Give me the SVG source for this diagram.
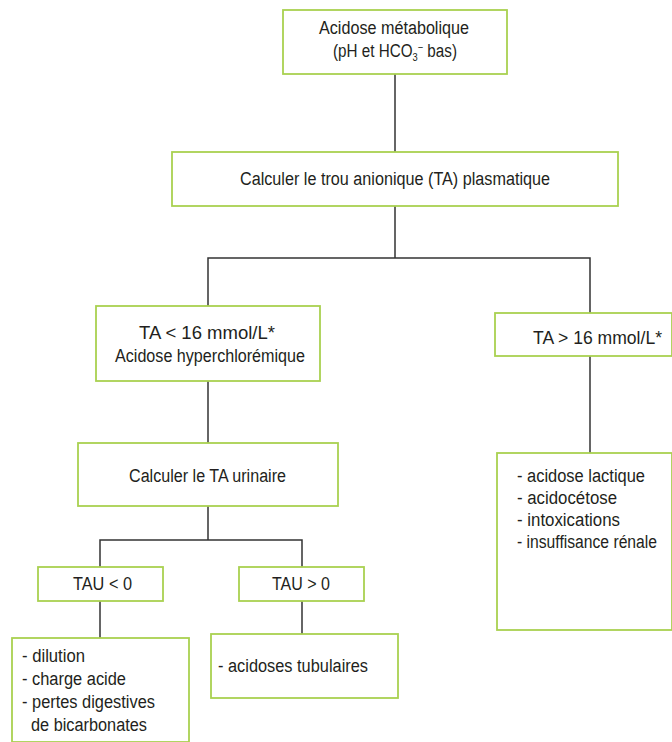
<svg xmlns="http://www.w3.org/2000/svg" width="672" height="742" viewBox="0 0 672 742">
<style>
.box{fill:#fff;stroke:#a9d150;stroke-width:1.8}
.t{font-family:"Liberation Sans",Arial,sans-serif;font-size:18px;fill:#231f20}
.c{fill:none;stroke:#333;stroke-width:1.5}
</style>
<rect width="672" height="742" fill="#fff"/>
<g id="connectors">
<path class="c" d="M395 74V152"/>
<path class="c" d="M395 206V258M208 306V258H590V313"/>
<path class="c" d="M590 356V453"/>
<path class="c" d="M208 381V443"/>
<path class="c" d="M208 506V540M100 567V540H302V567"/>
<path class="c" d="M100 601V638"/>
<path class="c" d="M302 601V634"/>
</g>
<g id="n1">
<rect class="box" x="283" y="10" width="224" height="64"/>
<text class="t" x="319" y="34" textLength="150" lengthAdjust="spacingAndGlyphs">Acidose métabolique</text>
<text class="t" x="333" y="57" textLength="124" lengthAdjust="spacingAndGlyphs">(pH et HCO<tspan font-size="11" dy="4">3</tspan><tspan font-size="11" dy="-10">−</tspan><tspan dy="6"> bas)</tspan></text>
</g>
<g id="n2">
<rect class="box" x="172" y="152" width="446" height="54"/>
<text class="t" x="240" y="185" textLength="310" lengthAdjust="spacingAndGlyphs">Calculer le trou anionique (TA) plasmatique</text>
</g>
<g id="n3">
<rect class="box" x="96" y="306" width="224" height="75"/>
<text class="t" x="139" y="339" textLength="136" lengthAdjust="spacingAndGlyphs">TA &lt; 16 mmol/L*</text>
<text class="t" x="115" y="362" textLength="190" lengthAdjust="spacingAndGlyphs">Acidose hyperchlorémique</text>
</g>
<g id="n4">
<rect class="box" x="495" y="313" width="177" height="43"/>
<text class="t" x="533" y="344" textLength="129" lengthAdjust="spacingAndGlyphs">TA &gt; 16 mmol/L*</text>
</g>
<g id="n5">
<rect class="box" x="497" y="453" width="175" height="177"/>
<text class="t" x="517" y="482" textLength="128" lengthAdjust="spacingAndGlyphs">- acidose lactique</text>
<text class="t" x="517" y="504" textLength="100" lengthAdjust="spacingAndGlyphs">- acidocétose</text>
<text class="t" x="517" y="526" textLength="103" lengthAdjust="spacingAndGlyphs">- intoxications</text>
<text class="t" x="517" y="548" textLength="140" lengthAdjust="spacingAndGlyphs">- insuffisance rénale</text>
</g>
<g id="n6">
<rect class="box" x="78" y="443" width="260" height="63"/>
<text class="t" x="129" y="482" textLength="157" lengthAdjust="spacingAndGlyphs">Calculer le TA urinaire</text>
</g>
<g id="n7">
<rect class="box" x="38" y="567" width="125" height="34"/>
<text class="t" x="73" y="590" textLength="59" lengthAdjust="spacingAndGlyphs">TAU &lt; 0</text>
</g>
<g id="n8">
<rect class="box" x="239" y="567" width="125" height="34"/>
<text class="t" x="272" y="590" textLength="58" lengthAdjust="spacingAndGlyphs">TAU &gt; 0</text>
</g>
<g id="n9">
<rect class="box" x="12" y="638" width="177" height="104"/>
<text class="t" x="22" y="662" textLength="63" lengthAdjust="spacingAndGlyphs">- dilution</text>
<text class="t" x="22" y="685" textLength="104" lengthAdjust="spacingAndGlyphs">- charge acide</text>
<text class="t" x="22" y="708" textLength="133" lengthAdjust="spacingAndGlyphs">- pertes digestives</text>
<text class="t" x="31" y="731" textLength="116" lengthAdjust="spacingAndGlyphs">de bicarbonates</text>
</g>
<g id="n10">
<rect class="box" x="211" y="634" width="187" height="64"/>
<text class="t" x="218" y="672" textLength="150" lengthAdjust="spacingAndGlyphs">- acidoses tubulaires</text>
</g>
</svg>
